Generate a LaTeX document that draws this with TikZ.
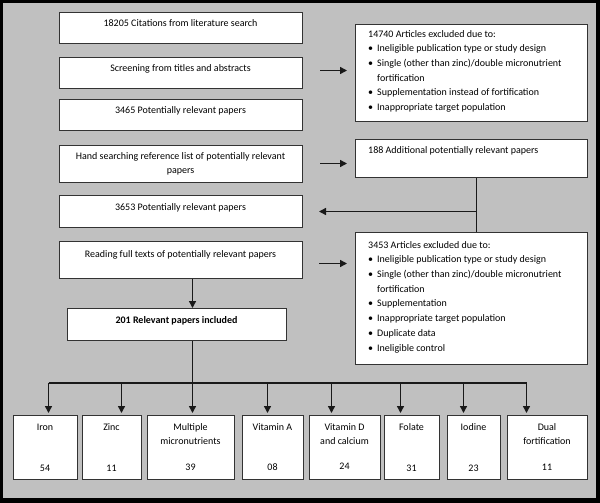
\documentclass[tikz,border=0pt]{standalone}
\usepackage{fontspec}
\setmainfont{Carlito}
\usetikzlibrary{arrows.meta}
\definecolor{bg}{HTML}{C0C0C0}
\definecolor{edge}{HTML}{333333}
\tikzset{
  box/.style={draw=edge, line width=1pt, fill=white, inner sep=0pt, anchor=north west},
  txt/.style={inner sep=0pt, anchor=north, font=\fontsize{10}{14.7}\selectfont, align=center},
  ltxt/.style={inner sep=0pt, anchor=north west, font=\fontsize{10}{14.7}\selectfont, align=left},
  arr/.style={line width=1.4pt, draw=black!90, -{Triangle[length=7pt,width=7pt]}},
  ln/.style={line width=1.4pt, draw=black!90},
}
\newcommand{\bul}{\makebox[9pt][l]{\textbullet}}
\newcommand{\ind}{\hspace*{9pt}}
\begin{document}
\begin{tikzpicture}[x=1pt,y=-1pt]
\fill[black] (0,0) rectangle (600,503);
\fill[bg] (3,3) rectangle (596,498);
\useasboundingbox (0,0) rectangle (600,503);

% left column
\node[box, minimum width=243pt, minimum height=31pt] (b1) at (59,12) {};
\node[box, minimum width=243pt, minimum height=31pt] (b2) at (59,57) {};
\node[box, minimum width=243pt, minimum height=31pt] (b3) at (59,99) {};
\node[box, minimum width=243pt, minimum height=37pt] (b4) at (59,145) {};
\node[box, minimum width=243pt, minimum height=32pt] (b5) at (59,195) {};
\node[box, minimum width=243pt, minimum height=37pt] (b6) at (59,241) {};
\node[box, minimum width=219pt, minimum height=32pt] (b7) at (67,308) {};

\node[txt] (t1) at (180.5,15.7) {\strut 18205 Citations from literature search};
\node[txt] (t2) at (180.5,60.7) {\strut Screening from titles and abstracts};
\node[txt] (t3) at (180.5,102.7) {\strut 3465 Potentially relevant papers};
\node[txt] (t4) at (180.5,148.7) {\strut Hand searching reference list of potentially relevant\\papers};
\node[txt] (t5) at (180.5,199.7) {\strut 3653 Potentially relevant papers};
\node[txt] (t6) at (180.5,246.7) {\strut Reading full texts of potentially relevant papers};
\node[txt, font=\fontsize{10}{14.7}\selectfont\bfseries] (t7) at (176.5,312.7) {\strut 201 Relevant papers included};

% right column
\node[box, minimum width=232pt, minimum height=97pt] (r1) at (355,24) {};
\node[box, minimum width=232pt, minimum height=38pt] (r2) at (355,139) {};
\node[box, minimum width=232pt, minimum height=132pt] (r3) at (355,232) {};

\node[ltxt] (s1) at (368,26.7) {\strut 14740 Articles excluded due to:\\
\bul Ineligible publication type or study design\\
\bul Single (other than zinc)/double micronutrient\\
\ind fortification\\
\bul Supplementation instead of fortification\\
\bul Inappropriate target population};
\node[ltxt] (s2) at (368,142.7) {\strut 188 Additional potentially relevant papers};
\node[ltxt] (s3) at (368,237.7) {\strut 3453 Articles excluded due to:\\
\bul Ineligible publication type or study design\\
\bul Single (other than zinc)/double micronutrient\\
\ind fortification\\
\bul Supplementation\\
\bul Inappropriate target population\\
\bul Duplicate data\\
\bul Ineligible control};

% bottom row
\node[box, minimum width=64pt, minimum height=64pt] (iron) at (13,415) {};
\node[box, minimum width=59pt, minimum height=64pt] (zinc) at (82,415) {};
\node[box, minimum width=87pt, minimum height=64pt] (multi) at (147,415) {};
\node[box, minimum width=61pt, minimum height=64pt] (vita) at (242,415) {};
\node[box, minimum width=71pt, minimum height=64pt] (vitd) at (309,415) {};
\node[box, minimum width=55pt, minimum height=64pt] (folate) at (384,415) {};
\node[box, minimum width=53pt, minimum height=64pt] (iodine) at (447,415) {};
\node[box, minimum width=80pt, minimum height=64pt] (dual) at (507,415) {};

\node[txt] (l1) at (45,419.7) {\strut Iron};
\node[txt] (l2) at (111.5,419.7) {\strut Zinc};
\node[txt] (l3) at (190.5,419.7) {\strut Multiple\\micronutrients};
\node[txt] (l4) at (272.5,419.7) {\strut Vitamin A};
\node[txt] (l5) at (344.5,419.7) {\strut Vitamin D\\and calcium};
\node[txt] (l6) at (411.5,419.7) {\strut Folate};
\node[txt] (l7) at (473.5,419.7) {\strut Iodine};
\node[txt] (l8) at (547,419.7) {\strut Dual\\fortification};

\node[txt] (n1) at (45,460.7) {\strut 54};
\node[txt] (n2) at (111.5,460.7) {\strut 11};
\node[txt] (n3) at (190.5,459.7) {\strut 39};
\node[txt] (n4) at (272.5,459.7) {\strut 08};
\node[txt] (n5) at (344.5,458.7) {\strut 24};
\node[txt] (n6) at (411.5,460.7) {\strut 31};
\node[txt] (n7) at (473.5,460.7) {\strut 23};
\node[txt] (n8) at (547,459.7) {\strut 11};

% connectors
\draw[arr] ([xshift=17pt,yshift=2.5pt]b2.east) -- ([xshift=-8pt,yshift=2.5pt]b2.east -| r1.west);
\draw[arr] ([xshift=17pt,yshift=0.5pt]b4.east) -- ([xshift=-8pt,yshift=0.5pt]b4.east -| r2.west);
\draw[arr] ([xshift=16pt,yshift=-3.5pt]b6.east) -- ([xshift=-8pt,yshift=-3.5pt]b6.east -| r3.west);

\draw[ln] ([xshift=5pt]r2.south) -- ([xshift=5pt]r3.north);
\coordinate (j) at ([xshift=5pt]r2.south |- b5.east);
\draw[arr] (j) -- ([xshift=16pt]b5.east);

\draw[arr] ([xshift=11.5pt]b6.south) -- ([xshift=11.5pt]b6.south |- b7.north);

\coordinate (bus) at (192,383);
\draw[arr] ([xshift=15.5pt]b7.south) -- ([xshift=15.5pt,yshift=2pt]b7.south |- multi.north);
\draw[ln] ([xshift=3pt]iron.north |- bus) -- ([xshift=-21pt]dual.north |- bus);
\foreach \n/\s in {iron/3, zinc/9.5, vita/-5.5, vitd/-13.5, folate/-11.5, iodine/-10.5, dual/-21}{
  \draw[arr] ([xshift=\s pt]\n.north |- bus) -- ([xshift=\s pt, yshift=2pt]\n.north);
}
\end{tikzpicture}
\end{document}
